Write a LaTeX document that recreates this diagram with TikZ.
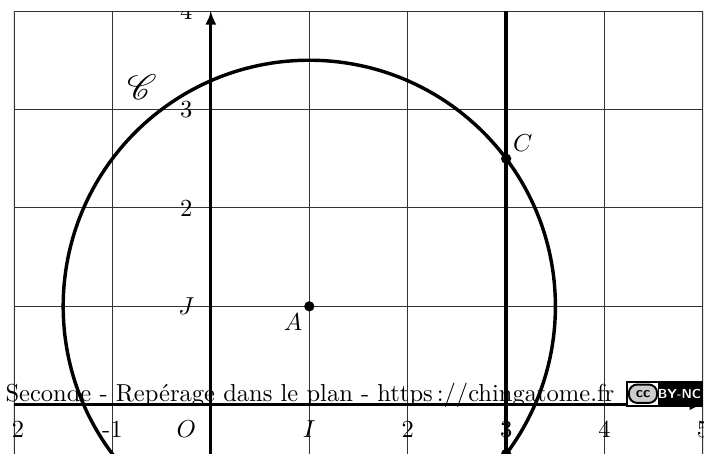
\documentclass[tikz,border=0pt]{standalone}
\usepackage{amsmath}
\usepackage{mathrsfs}
\usetikzlibrary{arrows.meta, positioning, calc}
\tikzset{
    >=Latex,
    % Traits
    grille/.style={line width=0.45pt, black!80, step=1},
    axe/.style={line width=1.2pt, -{Latex[length=5.5pt, width=4.5pt]}},
    courbe/.style={line width=1.4pt},
    droite/.style={line width=1.4pt},
    % Points et labels
    pt/.style={circle, fill=black, inner sep=0pt, minimum size=4.2pt},
    lbl/.style={inner sep=1pt},
    % Pied de page
    pied/.style={inner sep=0pt, anchor=base west},
    logo/.style={draw=black, line width=0.8pt, inner sep=0pt}
}

\begin{document}
\begin{tikzpicture}[x=1.41cm, y=1.41cm]

\useasboundingbox (-2.142,-0.518) rectangle (5.091,4.112);

\begin{scope}
\clip (-2,-0.5) rectangle (5,4);

% Grille et axes
\draw[grille] (-2,-1) grid (5,4);
\coordinate (xmin) at (-2.5,0);
\coordinate (xmax) at (5,0);
\coordinate (ymin) at (0,-0.6);
\coordinate (ymax) at (0,4);
\draw[axe] (xmin) -- (xmax);
\draw[axe] (ymin) -- (ymax);

% Graduations
\node[lbl] (O) at (-0.25,-0.25) {$O$};
\node[lbl] (I) at (1,-0.25) {$I$};
\node[lbl] (J) at (-0.25,1) {$J$};
\foreach \x in {-2,-1,2,3,4,5}
    \node[lbl] (gx\x) at (\x,-0.25) {\x};
\foreach \y in {2,3,4}
    \node[lbl] (gy\y) at (-0.25,\y) {\y};

% Points
\node[pt] (A) at (1,1) {};
\node[pt] (C) at (3,2.5) {};
\node[pt] (D) at (3,-0.5) {};
\node[lbl, below left=0pt and 0pt of A] (lA) {$A$};
\node[lbl, above right=0pt and 0pt of C] (lC) {$C$};

% Droite x=3 et cercle
\coordinate (d1) at (3,-0.6);
\coordinate (d2) at (3,4.2);
\draw[droite] (d1) -- (d2);
\draw[courbe] (A) circle (2.5);
\node[lbl] (cercle) at (-0.70,3.23) {\Large$\mathscr{C}$};
\end{scope}

% Pied de page
\node[pied] (titre) at (-2.091,0.03) {Seconde - Repérage dans le plan - https\,://chingatome.fr};
\fill[white] (4.228,-0.01) rectangle (4.99,0.234);
\fill[black] (4.54,-0.01) rectangle (4.99,0.234);
\draw[line width=0.7pt] (4.228,-0.01) rectangle (4.99,0.234);
\node[logo, fill=black!20, rounded corners=3.4pt, minimum width=11.5pt, minimum height=7.5pt] (cc) at (4.39,0.112)
    {\fontsize{6}{6}\selectfont\sffamily\bfseries cc};
\node[inner sep=0pt, text=white] (byne) at (4.76,0.112)
    {\fontsize{5.3}{5.3}\selectfont\sffamily\bfseries BY-NC};

\end{tikzpicture}
\end{document}
